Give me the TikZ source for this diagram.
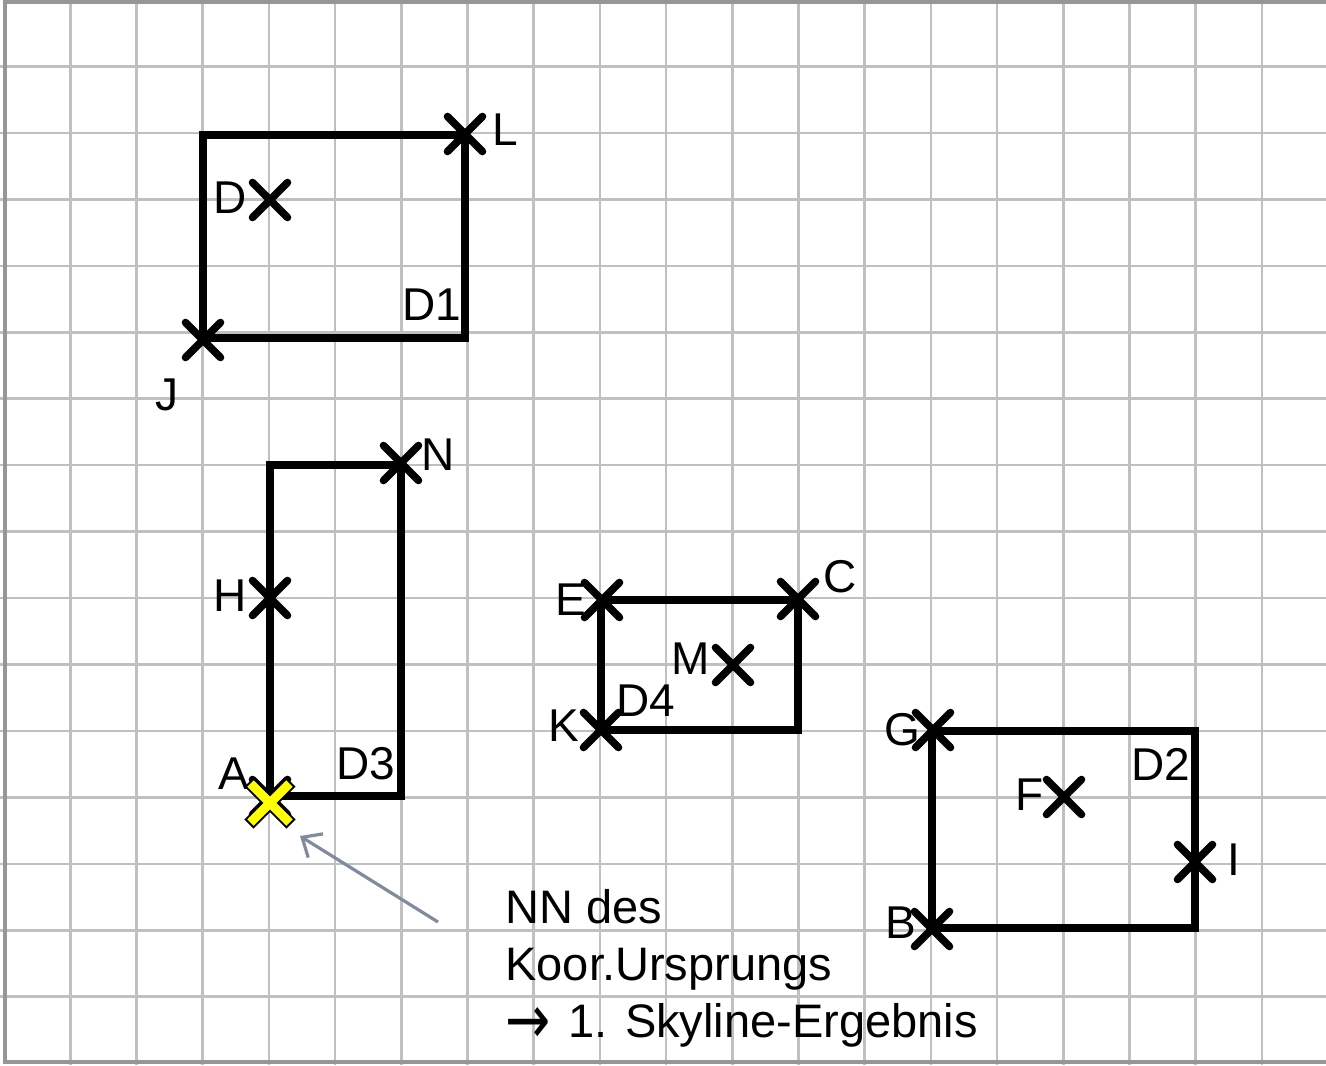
\documentclass[tikz,border=0pt]{standalone}
\usepackage{fontspec}
\setmainfont{Liberation Sans}
\newfontfamily\arrowfont{DejaVu Sans}
\usetikzlibrary{arrows.meta}
\definecolor{gridgray}{RGB}{192,192,192}
\definecolor{framegray}{RGB}{150,150,150}
\definecolor{arrowgray}{RGB}{128,140,156}
\definecolor{markyellow}{RGB}{255,255,0}
\begin{document}
\begin{tikzpicture}[x=0.5pt,y=-0.5pt,
  gridline/.style={draw=gridgray,line width=1.3pt},
  frameline/.style={draw=framegray,line width=1.6pt},
  box/.style={draw=black,line width=4pt,line join=miter},
  lbl/.style={font=\fontsize{23}{27}\selectfont,inner sep=0pt,text=black},
  note/.style={font=\fontsize{23.5}{28.5}\selectfont,inner sep=0pt,align=left,text=black},
  pointer/.style={draw=arrowgray,line width=1.6pt,-{Straight Barb[length=8pt,width=14pt]}},
  xmark/.pic={\draw[black,line width=3.8pt,line cap=round] (-17.5,-17.5)--(17.5,17.5) (-17.5,17.5)--(17.5,-17.5);},
  hilite/.pic={
    \draw[black,line width=6.5pt] (-21,-21)--(21,21) (-21,21)--(21,-21);
    \draw[markyellow,line width=4.5pt] (-19.5,-19.5)--(19.5,19.5) (-19.5,19.5)--(19.5,-19.5);}
]
\useasboundingbox (0,0) rectangle (1326,1065);
\fill[white] (0,0) rectangle (1326,1065);
% grid
\foreach \i in {1,...,19} \draw[gridline] ({4+66.2*\i},0) -- ({4+66.2*\i},1065);
\foreach \j in {1,...,15} \draw[gridline] (0,{66.45*\j}) -- (1326,{66.45*\j});
\draw[frameline] (1330,2) -- (5,2) -- (5,1062) -- (1330,1062);

% point coordinates
\coordinate (J) at (203,340);
\coordinate (D) at (270,200);
\coordinate (L) at (465,134);
\coordinate (N) at (401,463);
\coordinate (H) at (270,598);
\coordinate (A) at (270,797);
\coordinate (Ay) at (270,803);
\coordinate (E) at (602,600);
\coordinate (C) at (798,599);
\coordinate (M) at (733,665);
\coordinate (K) at (601,730);
\coordinate (G) at (933,730);
\coordinate (F) at (1064,797);
\coordinate (I) at (1195,862);
\coordinate (B) at (932,929);

% rectangle corners
\coordinate (r1a) at (203,338); \coordinate (r1b) at (465,135);
\coordinate (r2a) at (270,796); \coordinate (r2b) at (401,465);
\coordinate (r3a) at (601,730); \coordinate (r3b) at (798,600);
\coordinate (r4a) at (932,928); \coordinate (r4b) at (1195,731);

\draw[box] (r1a) rectangle (r1b);
\draw[box] (r2a) rectangle (r2b);
\draw[box] (r3a) rectangle (r3b);
\draw[box] (r4a) rectangle (r4b);

% labels
\node[lbl] (lJ) at (167,395) {J};
\node[lbl] (lD) at (230,198) {D};
\node[lbl] (lL) at (505,130) {L};
\node[lbl] (lD1) at (432,305) {D1};
\node[lbl] (lN) at (438,455) {N};
\node[lbl] (lH) at (230,596) {H};
\node[lbl] (lA) at (234,774) {A};
\node[lbl] (lD3) at (366,764) {D3};
\node[lbl] (lE) at (571,600) {E};
\node[lbl] (lC) at (840,577) {C};
\node[lbl] (lM) at (691,659) {M};
\node[lbl] (lD4) at (646,701) {D4};
\node[lbl] (lK) at (564,726) {K};
\node[lbl] (lG) at (902,730) {G};
\node[lbl] (lD2) at (1161,764) {D2};
\node[lbl] (lF) at (1030,795) {F};
\node[lbl] (lI) at (1234,860) {I};
\node[lbl] (lB) at (901,923) {B};

% crosses
\foreach \p in {J,D,L,N,H,A,E,C,M,K,G,F,I,B} \pic at (\p) {xmark};
\pic at (Ay) {hilite};

% pointer and note
\node[note,anchor=north west] (note) at (505,889) {NN des\\Koor.Ursprungs\\\raisebox{-0.13em}{\arrowfont\scalebox{1.15}[1.45]{→}}\hspace{0.1em} 1. Skyline-Ergebnis};
\coordinate (ptail) at (438,922);
\coordinate (phead) at (300,836);
\draw[pointer] (ptail) -- (phead);
\end{tikzpicture}
\end{document}
